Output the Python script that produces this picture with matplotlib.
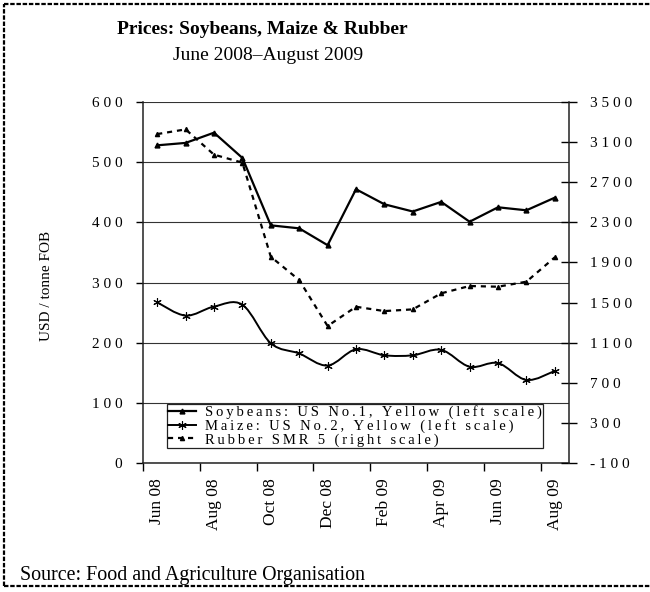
import matplotlib
matplotlib.use("Agg")
import matplotlib.pyplot as plt
from matplotlib.lines import Line2D
from matplotlib.path import Path
from matplotlib.patches import PathPatch

plt.rcParams["font.family"] = ["Liberation Serif", "DejaVu Serif"]

months = ["Jun 08", "Jul 08", "Aug 08", "Sep 08", "Oct 08", "Nov 08", "Dec 08",
          "Jan 09", "Feb 09", "Mar 09", "Apr 09", "May 09", "Jun 09", "Jul 09", "Aug 09"]
# USD / tonne FOB
soybeans = [528, 532, 549, 507, 395, 390, 362, 455, 430, 418, 434, 401, 425, 420, 441]
maize = [267, 245, 260, 263, 199, 182, 162, 189, 179, 179, 188, 160, 166, 138, 153]
rubber = [3180, 3227, 2975, 2895, 1957, 1724, 1266, 1458, 1415, 1432, 1592, 1665, 1658, 1708, 1951]

left_ticks = [0, 100, 200, 300, 400, 500, 600]
right_ticks = [-100, 300, 700, 1100, 1500, 1900, 2300, 2700, 3100, 3500]

labels = ["Soybeans: US No.1, Yellow (left scale)",
          "Maize: US No.2, Yellow (left scale)",
          "Rubber SMR 5 (right scale)"]


def spaced(s, gap=" "):
    return gap.join(s)


def smooth_path(xs, ys):
    # cubic bezier through every point, excel-style smoothing
    n = len(xs)
    verts = [(xs[0], ys[0])]
    codes = [Path.MOVETO]
    for i in range(n - 1):
        xa, ya = (xs[i - 1], ys[i - 1]) if i > 0 else (xs[i], ys[i])
        xb, yb = (xs[i + 2], ys[i + 2]) if i + 2 < n else (xs[i + 1], ys[i + 1])
        c1 = (xs[i] + (xs[i + 1] - xa) / 6, ys[i] + (ys[i + 1] - ya) / 6)
        c2 = (xs[i + 1] - (xb - xs[i]) / 6, ys[i + 1] - (yb - ys[i]) / 6)
        verts += [c1, c2, (xs[i + 1], ys[i + 1])]
        codes += [Path.CURVE4] * 3
    return Path(verts, codes)


W, H = 650, 592
fig = plt.figure(figsize=(W / 100, H / 100), dpi=100)
ax = fig.add_axes([143 / W, 1 - 463 / H, 426 / W, 361 / H])
ax2 = ax.twinx()

x = list(range(len(months)))

asterisk = (6, 2, 0)
ax.plot(x, soybeans, color="black", lw=1.6, marker="^", ms=3.5, zorder=3)
ax.add_patch(PathPatch(smooth_path(x, maize), fill=False, edgecolor="black", lw=1.4, zorder=3))
ax.plot(x, maize, ls="none", marker=asterisk, ms=6, mew=0.8, color="black", zorder=3)
ax2.plot(x, rubber, color="black", lw=1.6, ls=(0, (2.3, 2.2)), marker="^", ms=3, zorder=3)

ax.set_xlim(-0.5, len(months) - 0.5)
ax.set_ylim(0, 600)
ax2.set_ylim(-100, 3500)

ax.set_yticks(left_ticks)
ax.set_yticklabels([spaced(str(v)) for v in left_ticks], fontsize=11)
ax2.set_yticks(right_ticks)
ax2.set_yticklabels([spaced(str(v)) for v in right_ticks], fontsize=11)

ax.set_xticks([i - 0.5 for i in range(0, len(months), 2)])
ax.set_xticklabels([])
ax.set_xticks(x[::2], minor=True)
ax.set_xticklabels(months[::2], minor=True, rotation=90, fontsize=12.5)
ax.tick_params(axis="x", which="major", direction="out", length=6, width=1)
ax.tick_params(axis="x", which="minor", length=0, pad=11)
ax.tick_params(axis="y", direction="out", length=5, width=1, pad=10)
ax2.tick_params(axis="y", direction="inout", length=12, width=1, pad=9)

ax.yaxis.grid(True, color="#333333", lw=0.8)
ax.set_axisbelow(True)
for s in ["top", "right"]:
    ax.spines[s].set_visible(False)
for s in ["top", "left", "bottom"]:
    ax2.spines[s].set_visible(False)
for sp in [ax.spines["left"], ax.spines["bottom"], ax2.spines["right"]]:
    sp.set_color("#222222")
    sp.set_linewidth(1.1)

handles = [
    Line2D([0], [0], color="black", lw=1.6, marker="^", ms=3.5),
    Line2D([0], [0], color="black", lw=1.4, marker=asterisk, ms=6, mew=0.8),
    Line2D([0], [0], color="black", lw=1.6, ls=(0, (2.3, 2.2)), marker="^", ms=3),
]
leg = ax2.legend(handles, [spaced(t, "\u2009") for t in labels], loc="lower left",
                 bbox_to_anchor=(24 / 426, 15 / 361), fontsize=10.5,
                 frameon=True, fancybox=False, framealpha=1, edgecolor="#222222",
                 borderpad=0.1, labelspacing=0.0, handlelength=1.9,
                 handletextpad=0.6, borderaxespad=0, numpoints=1)
leg.get_frame().set_linewidth(0.9)

fig.text(262 / W, 1 - 29 / H, "Prices: Soybeans, Maize & Rubber", ha="center", va="center",
         fontsize=14, fontweight="bold")
fig.text(268 / W, 1 - 56 / H, "June 2008\u2013August 2009", ha="center", va="center", fontsize=14)
fig.text(46 / W, 1 - 286 / H, "USD / tonne FOB", rotation=90, ha="center", va="center", fontsize=11)
fig.text(20 / W, 1 - 580 / H, "Source: Food and Agriculture Organisation", ha="left",
         va="baseline", fontsize=14.4)

# dotted frame on top, left and bottom
frame = dict(transform=fig.transFigure, color="black", lw=1.6, ls=(0, (2, 0.8)))
top, bot, lft = 1 - 4 / H, 1 - 586 / H, 4 / W
fig.add_artist(Line2D([lft, 1], [top, top], **frame))
fig.add_artist(Line2D([lft, lft], [bot, top], **frame))
fig.add_artist(Line2D([lft, 1], [bot, bot], **frame))

fig.savefig("out.png", dpi=100)
